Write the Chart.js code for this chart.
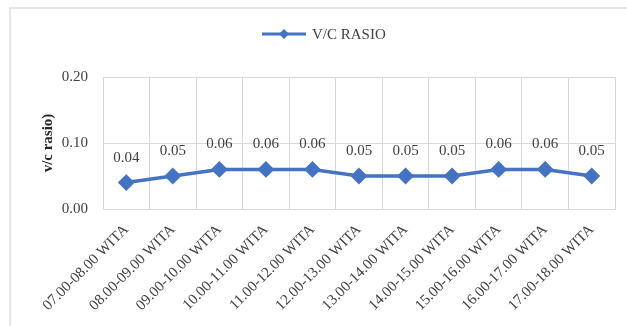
<!DOCTYPE html>
<html lang="en">
<head>
<meta charset="UTF-8">
<title>V/C Rasio</title>
<script src="https://cdn.jsdelivr.net/npm/chart.js"></script>
<style>
  body { margin: 0; background: #fff; }
  #frame { position: absolute; left: 9px; top: 7px; width: 640px; height: 340px; border: 2px solid #e6e6e6; }
  #chart { position: absolute; left: 0; top: 0; }
</style>
</head>
<body>
  <div id="frame"></div>
  <canvas id="chart" width="627" height="326"></canvas>

  <script>
    // data
    const hours = ['07.00-08.00 WITA', '08.00-09.00 WITA', '09.00-10.00 WITA', '10.00-11.00 WITA',
      '11.00-12.00 WITA', '12.00-13.00 WITA', '13.00-14.00 WITA', '14.00-15.00 WITA',
      '15.00-16.00 WITA', '16.00-17.00 WITA', '17.00-18.00 WITA'];
    const vcRatio = [0.04, 0.05, 0.06, 0.06, 0.06, 0.05, 0.05, 0.05, 0.06, 0.06, 0.05];
    const seriesName = 'V/C RASIO';
    const yTitle = 'v/c rasio)';

    const blue = '#4472C4';
    const serif = "'Liberation Serif', 'DejaVu Serif', serif";

    // values written above the markers
    const valueLabels = {
      id: 'valueLabels',
      afterDatasetsDraw(chart) {
        const ctx = chart.ctx;
        const meta = chart.getDatasetMeta(0);
        ctx.save();
        ctx.font = '15px ' + serif;
        ctx.fillStyle = '#404040';
        ctx.textAlign = 'center';
        ctx.textBaseline = 'middle';
        meta.data.forEach((pt, i) => {
          ctx.fillText(vcRatio[i].toFixed(2), pt.x, pt.y - 25);
        });
        ctx.restore();
      }
    };

    // legend: line with diamond marker, then text
    const lineLegend = {
      id: 'lineLegend',
      afterDraw(chart) {
        const ctx = chart.ctx;
        const y = 34;
        ctx.save();
        ctx.strokeStyle = blue;
        ctx.lineWidth = 3;
        ctx.beginPath();
        ctx.moveTo(262, y);
        ctx.lineTo(306, y);
        ctx.stroke();
        ctx.fillStyle = blue;
        ctx.beginPath();
        ctx.moveTo(284, y - 5); ctx.lineTo(289, y); ctx.lineTo(284, y + 5); ctx.lineTo(279, y);
        ctx.closePath();
        ctx.fill();
        ctx.font = '15px ' + serif;
        ctx.fillStyle = '#404040';
        ctx.textBaseline = 'middle';
        ctx.fillText(seriesName, 312, y + 1);
        ctx.restore();
      }
    };

    const ctx = document.getElementById('chart').getContext('2d');
    new Chart(ctx, {
      type: 'line',
      data: {
        labels: hours,
        datasets: [{
          label: seriesName,
          data: vcRatio,
          borderColor: blue,
          backgroundColor: blue,
          borderWidth: 3.5,
          pointStyle: 'rectRot',
          pointRadius: 6,
          pointHoverRadius: 6,
          fill: false,
          tension: 0
        }]
      },
      options: {
        responsive: false,
        animation: false,
        layout: { padding: { top: 77, right: 12, left: 0, bottom: 0 } },
        plugins: {
          legend: { display: false },
          tooltip: { enabled: false }
        },
        scales: {
          x: {
            offset: true,
            grid: { color: '#d9d9d9', lineWidth: 1, offset: true, drawTicks: false },
            border: { color: '#d9d9d9' },
            ticks: {
              minRotation: 45,
              maxRotation: 45,
              padding: 12,
              color: '#404040',
              font: { family: serif, size: 15 }
            },
            afterFit(scale) { scale.height = 117; }
          },
          y: {
            min: 0,
            max: 0.2,
            grid: { color: '#d9d9d9', lineWidth: 1, drawTicks: false },
            border: { color: '#d9d9d9' },
            ticks: {
              stepSize: 0.1,
              padding: 15,
              color: '#404040',
              font: { family: serif, size: 15 },
              callback: v => v.toFixed(2)
            },
            title: {
              display: true,
              text: yTitle,
              color: '#262626',
              padding: { top: 39, bottom: 0 },
              font: { family: serif, size: 15, weight: 'bold' }
            },
            afterFit(scale) { scale.width = 103; }
          }
        }
      },
      plugins: [valueLabels, lineLegend]
    });
  </script>
</body>
</html>
